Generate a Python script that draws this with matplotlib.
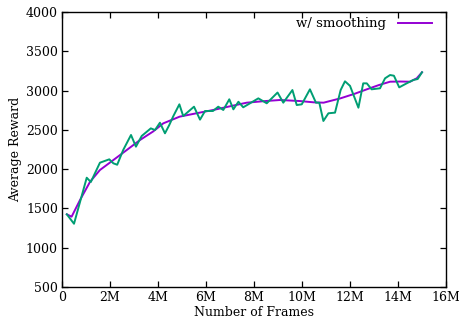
import matplotlib
matplotlib.use("Agg")
import matplotlib.pyplot as plt

# raw episode rewards (millions of frames, reward)
raw_frames = [0.2, 0.5, 1.03, 1.2, 1.58, 1.97, 2.14, 2.3, 2.55, 2.875, 3.08, 3.32,
              3.7, 3.875, 4.08, 4.29, 4.47, 4.64, 4.89, 5.05, 5.5, 5.75, 5.96,
              6.29, 6.51, 6.72, 6.97, 7.14, 7.35, 7.55, 8.18, 8.53, 8.98, 9.22,
              9.6, 9.78, 9.99, 10.33, 10.58, 10.72, 10.89, 11.1, 11.375, 11.61,
              11.79, 12.0, 12.35, 12.55, 12.7, 12.9, 13.25, 13.46, 13.67, 13.83,
              14.05, 14.36, 14.64, 14.82, 15.0]
raw_reward = [1425, 1305, 1891, 1836, 2082, 2125, 2074, 2056, 2244, 2435, 2286, 2422,
              2519, 2498, 2591, 2456, 2562, 2676, 2825, 2676, 2795, 2630, 2740,
              2740, 2795, 2753, 2889, 2761, 2858, 2787, 2901, 2838, 2975, 2846,
              3007, 2816, 2825, 3016, 2846, 2846, 2613, 2711, 2719, 3007,
              3118, 3060, 2782, 3092, 3092, 3016, 3029, 3156, 3198, 3189,
              3041, 3092, 3135, 3147, 3233]

# smoothed curve
smooth_frames = [0.2, 0.4, 0.75, 1.17, 1.58, 2.14, 2.7, 3.25, 3.8, 4.22, 4.9, 5.6,
                 6.3, 7.0, 7.7, 8.4, 9.08, 9.9, 10.5, 10.9, 11.6, 12.2, 12.7, 13.2,
                 13.67, 14.1, 14.5, 14.78, 15.0]
smooth_reward = [1425, 1395, 1607, 1840, 1989, 2116, 2244, 2371, 2480, 2583, 2668, 2711,
                 2753, 2800, 2846, 2865, 2880, 2867, 2850, 2846, 2901, 2960, 3016, 3070,
                 3113, 3115, 3113, 3156, 3233]

xticks = [0, 2, 4, 6, 8, 10, 12, 14, 16]
xtick_labels = ["0", "2M", "4M", "6M", "8M", "10M", "12M", "14M", "16M"]
yticks = [500, 1000, 1500, 2000, 2500, 3000, 3500, 4000]

plt.rcParams['font.family'] = ['DejaVu Serif']
plt.rcParams['font.size'] = 9

fig = plt.figure(figsize=(4.6, 3.28), dpi=100)
ax = fig.add_axes([0.1348, 0.125, 0.8348, 0.8384])

ax.plot(smooth_frames, smooth_reward, color='#9400d3', lw=1.4, label='w/ smoothing')
ax.plot(raw_frames, raw_reward, color='#009e73', lw=1.4)

ax.set_xlim(0, 16)
ax.set_ylim(500, 4000)
ax.set_xticks(xticks)
ax.set_xticklabels(xtick_labels)
ax.set_yticks(yticks)
ax.tick_params(direction='in', top=True, right=True, length=4.5, width=0.9, pad=3)
for s in ax.spines.values():
    s.set_linewidth(1.0)

ax.set_xlabel('Number of Frames', labelpad=1)
ax.set_ylabel('Average Reward', labelpad=3)

leg = ax.legend(loc='upper right', bbox_to_anchor=(0.977, 1.0), frameon=False,
                markerfirst=False, handlelength=2.6, handletextpad=0.9,
                borderaxespad=0.2, borderpad=0.2, fontsize=9.5)

fig.savefig('out.png', dpi=100)
